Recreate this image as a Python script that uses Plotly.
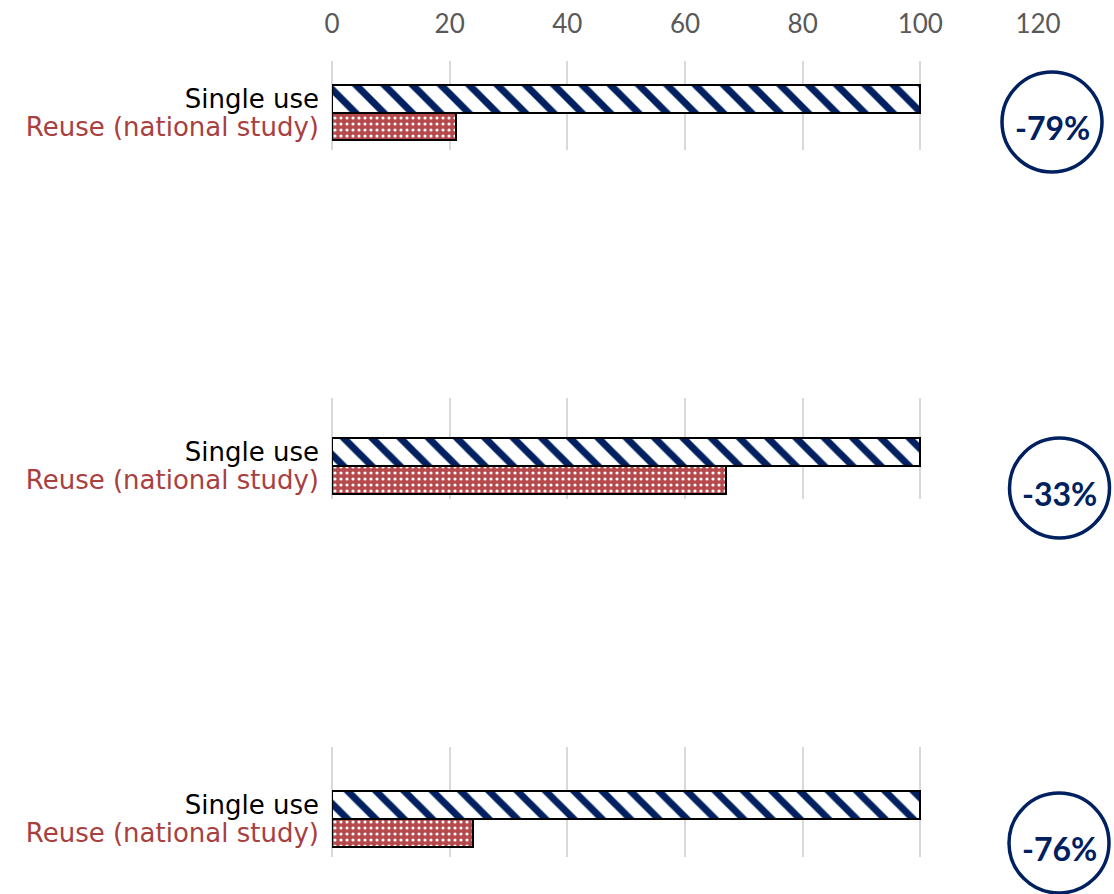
import plotly.graph_objects as go

# Data
series_names = ["Single use", "Reuse (national study)"]
single_use = [100, 100, 100]
reuse = [21, 67, 24]
x_ticks = [0, 20, 40, 60, 80, 100, 120]

# Styling
NAVY = "#002060"
RED = "#B5494B"
RED_TEXT = "#A8403F"
GRID = "#D9D9D9"
FONT = "Lato"
LABEL_FONT = "DejaVu Sans"

W, H = 1114, 894
ML, MR = 332, 76

# Panel geometry in pixels: (grid top, grid bottom, y-range low, y-range high)
panels = [
    (61, 150, -0.84, 2.34),
    (398, 499, -0.68, 2.93),
    (747, 857, -0.86, 3.09),
]
# Badge centres in pixels
badges = [(1052, 122), (1059.5, 488), (1059, 843)]
R = 50


def py(p):
    return 1 - p / H


def px(p):
    return (p - ML) / (W - ML - MR)


fig = go.Figure()
layout = dict(
    width=W, height=H,
    margin=dict(l=ML, r=MR, t=0, b=0),
    paper_bgcolor="white", plot_bgcolor="white",
    showlegend=False,
    bargap=0,
    shapes=[], annotations=[],
)

for i, (top, bot, ylo, yhi) in enumerate(panels):
    xa = "x" if i == 0 else f"x{i+1}"
    ya = "y" if i == 0 else f"y{i+1}"
    xkey = "xaxis" if i == 0 else f"xaxis{i+1}"
    ykey = "yaxis" if i == 0 else f"yaxis{i+1}"

    fig.add_trace(go.Bar(
        orientation="h", x=[single_use[i]], y=[1], width=1,
        xaxis=xa, yaxis=ya, name=series_names[0],
        marker=dict(
            color="white",
            line=dict(color="black", width=2),
            pattern=dict(shape="\\", bgcolor="white", fgcolor=NAVY,
                         size=20, solidity=0.35, fillmode="replace"),
        ),
        hoverinfo="skip",
    ))
    fig.add_trace(go.Bar(
        orientation="h", x=[reuse[i]], y=[0], width=1,
        xaxis=xa, yaxis=ya, name=series_names[1],
        marker=dict(
            color=RED,
            line=dict(color="black", width=2),
            pattern=dict(shape=".", bgcolor=RED, fgcolor="white",
                         size=6, solidity=0.22, fillmode="replace"),
        ),
        hoverinfo="skip",
    ))

    layout[xkey] = dict(
        domain=[0, 1], anchor=ya, range=[0, 120],
        tickvals=x_ticks, showgrid=True, gridcolor=GRID, gridwidth=1.5,
        zeroline=True, zerolinecolor=GRID, zerolinewidth=1.5,
        showticklabels=(i == 0), side="top", ticks="",
        ticklabelstandoff=22,
        tickfont=dict(family=FONT, size=26, color="#595959"),
        fixedrange=True,
    )
    if i > 0:
        layout[xkey]["matches"] = "x"
    layout[ykey] = dict(
        domain=[py(bot), py(top)], anchor=xa, range=[ylo, yhi],
        tickvals=[1, 0],
        ticktext=[series_names[0],
                  f"<span style='color:{RED_TEXT}'>{series_names[1]}</span>"],
        showgrid=False, zeroline=False, ticks="",
        ticklabelstandoff=12,
        tickfont=dict(family=LABEL_FONT, size=26, color="black"),
        fixedrange=True,
    )

    # Percentage change badge
    change = round((reuse[i] - single_use[i]) / single_use[i] * 100)
    cx, cy = badges[i]
    layout["shapes"].append(dict(
        type="circle", xref="paper", yref="paper",
        x0=px(cx - R), x1=px(cx + R), y0=py(cy + R), y1=py(cy - R),
        line=dict(color=NAVY, width=3.5), fillcolor="white",
    ))
    layout["annotations"].append(dict(
        xref="paper", yref="paper", x=px(cx), y=py(cy + 5),
        text=f"<b>{change}%</b>", showarrow=False,
        font=dict(family=FONT, size=32, color=NAVY),
        xanchor="center", yanchor="middle",
    ))

fig.update_layout(**layout)
fig.write_html("out.html")
